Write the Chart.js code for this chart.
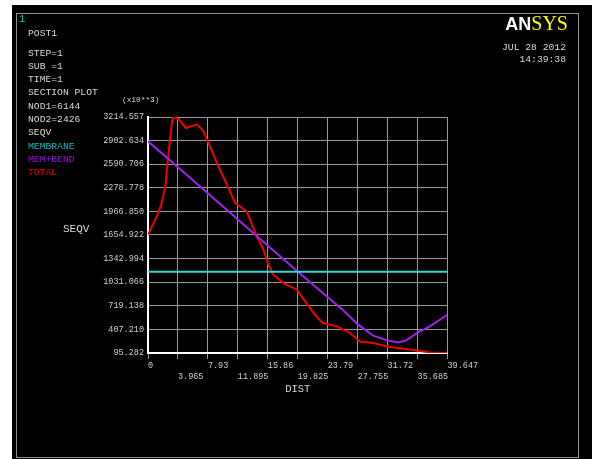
<!DOCTYPE html>
<html>
<head>
<meta charset="utf-8">
<script src="https://cdn.jsdelivr.net/npm/chart.js@4.4.1/dist/chart.umd.min.js"></script>
<style>
  html, body { margin: 0; padding: 0; background: #fff; }
  #page { position: relative; width: 592px; height: 459px; overflow: hidden; }
  #frame { position: absolute; left: 12px; top: 5px; width: 580px; height: 454px; background: #000; }
  #border { position: absolute; left: 16px; top: 13px; width: 561px; height: 443px; border: 1px solid #8f8f8f; }
  canvas { position: absolute; left: 0; top: 0; }
  .txt { position: absolute; font-family: "Liberation Mono", monospace; font-size: 9.7px; color: #d8d8d8; white-space: pre; line-height: 13.33px; }
</style>
</head>
<body>
<div id="page">
  <div id="frame"></div>
  <div id="border"></div>
  <canvas id="plot" width="592" height="459"></canvas>

  <div class="txt" style="left:19px; top:13px; color:#1ab8b8; font-size:10.5px;">1</div>
  <div class="txt" style="left:28px; top:26.5px;">POST1</div>
  <div class="txt" style="left:28px; top:46.5px;">STEP=1
SUB =1
TIME=1
SECTION PLOT
NOD1=6144
NOD2=2426
SEQV
<span style="color:#1ab8b8">MEMBRANE</span>
<span style="color:#9412d8">MEM+BEND</span>
<span style="color:#e00000">TOTAL</span></div>

  <div class="txt" style="left:122px; top:93.5px; font-size:7.8px;">(x10**3)</div>
  <div class="txt" style="left:63px; top:222.5px; font-size:11px;">SEQV</div>

  <div style="position:absolute; right:24px; top:11.5px; line-height:20px; white-space:nowrap;"><span style="font:bold 18px 'Liberation Sans'; color:#fff;">AN</span><span style="font:20px 'Liberation Serif'; color:#ffff00;">SYS</span></div>
  <div class="txt" style="right:26px; top:41.6px; text-align:right; line-height:12.7px;">JUL 28 2012
14:39:38</div>
</div>

<script>
// tick labels as printed by ANSYS
const xTickLabels = ['0', '3.965', '7.93', '11.895', '15.86', '19.825', '23.79', '27.755', '31.72', '35.685', '39.647'];
const yTickLabels = ['95.282', '407.210', '719.138', '1031.066', '1342.994', '1654.922', '1966.850', '2278.778', '2590.706', '2902.634', '3214.557'];

// MEMBRANE
const membraneDist = [0, 39.647];
const membraneSeqv = [1170, 1170];

// MEM+BEND
const bendDist = [0, 5, 10, 15, 20, 23.73, 25.85, 27.7, 29.8, 31.66, 33.1, 34.2, 35.63, 37.3, 39.647];
const bendSeqv = [2893, 2460, 2025, 1590, 1155, 840, 660, 480, 324, 262, 235, 262, 360, 447, 601];

// TOTAL
const totalDist = [0, 0.97, 1.76, 2.29, 2.64, 2.95, 3.26, 3.96, 5.02, 6.47, 7.35, 8.01, 9.33, 10.65, 11.54, 13.08,
    14.4, 15.28, 15.94, 16.6, 17.92, 19.69, 20.79, 22.1, 23.13, 24.98, 26.74, 28.06, 29.8, 32.03, 34.2, 37.3, 39.647];
const totalSeqv = [1659, 1857, 2055, 2297, 2650, 2959, 3214, 3195, 3069, 3117, 3024, 2871, 2560, 2276, 2078, 1967,
    1636, 1461, 1262, 1130, 1020, 932, 777, 601, 492, 447, 360, 248, 227, 175, 148, 103, 95.282];

const toPoints = (xs, ys) => xs.map((x, i) => ({ x, y: ys[i] }));

const tickFont = { family: 'Liberation Mono', size: 8.5, lineHeight: 1.3 };
const gridColor = '#9a9a9a';

new Chart(document.getElementById('plot'), {
    type: 'line',
    data: {
        datasets: [
            { label: 'MEMBRANE', data: toPoints(membraneDist, membraneSeqv), borderColor: '#33d8d8', borderWidth: 2 },
            { label: 'MEM+BEND', data: toPoints(bendDist, bendSeqv), borderColor: '#a020f0', borderWidth: 2 },
            { label: 'TOTAL', data: toPoints(totalDist, totalSeqv), borderColor: '#f00000', borderWidth: 2 }
        ]
    },
    options: {
        responsive: false,
        animation: false,
        elements: { point: { radius: 0 }, line: { tension: 0 } },
        layout: { padding: { left: 20, right: 144.5, top: 117, bottom: 63 } },
        plugins: { legend: { display: false }, tooltip: { enabled: false } },
        scales: {
            x: {
                type: 'linear',
                min: 0,
                max: 39.647,
                afterBuildTicks: s => { s.ticks = xTickLabels.map(t => ({ value: Number(t) })); },
                afterFit: s => { s.height = 43; },
                grid: { color: gridColor, lineWidth: 1, drawTicks: true, tickLength: 6, tickColor: gridColor },
                border: { color: '#ffffff', width: 2 },
                ticks: {
                    align: 'start',
                    padding: 1,
                    color: '#cfcfcf',
                    font: tickFont,
                    maxRotation: 0,
                    autoSkip: false,
                    // staggered: even ticks on first row, odd ticks on second
                    callback: (v, i) => i % 2 === 0 ? [xTickLabels[i], ''] : ['', xTickLabels[i]]
                },
                title: {
                    display: true,
                    text: 'DIST',
                    color: '#d8d8d8',
                    font: { family: 'Liberation Mono', size: 10.5, lineHeight: 1.2 },
                    padding: 0
                }
            },
            y: {
                type: 'linear',
                min: 95.282,
                max: 3214.557,
                afterBuildTicks: s => { s.ticks = yTickLabels.map(t => ({ value: Number(t) })); },
                afterFit: s => { s.width = 128; },
                grid: { color: gridColor, lineWidth: 1, drawTicks: false },
                border: { color: '#ffffff', width: 2 },
                ticks: {
                    padding: 4,
                    color: '#cfcfcf',
                    font: tickFont,
                    autoSkip: false,
                    callback: (v, i) => yTickLabels[i]
                }
            }
        }
    }
});
</script>
</body>
</html>
